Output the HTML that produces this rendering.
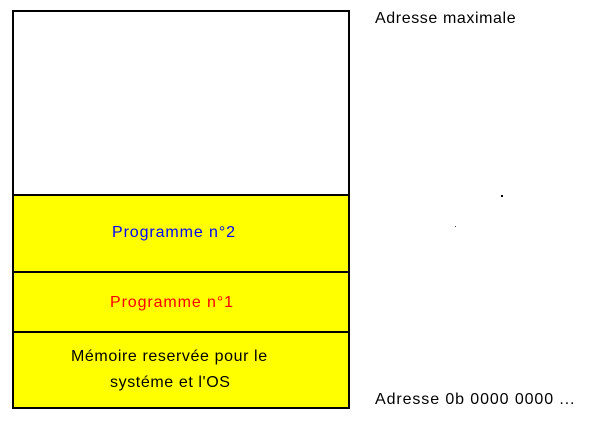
<!DOCTYPE html>
<html><head><meta charset="utf-8"><style>
body{margin:0;width:595px;height:431px;background:#fff;position:relative;font-family:"Liberation Sans","DejaVu Sans",sans-serif;overflow:hidden}
.b{position:absolute;left:12px;width:334px;border:2px solid #000;border-top:none}
.t{position:absolute;font-size:16px;white-space:nowrap;letter-spacing:0.9px}
</style></head><body>
<div style="position:absolute;left:12px;top:10px;width:334px;height:182px;border:2px solid #000"></div>
<div class="b" style="top:196px;height:75px;background:#ffff00"></div>
<div class="b" style="top:273px;height:58px;background:#ffff00"></div>
<div class="b" style="top:333px;height:74px;background:#ffff00"></div>
<div class="t" style="left:112px;top:224px;color:#0000ff">Programme n°2</div>
<div class="t" style="left:110px;top:294px;color:#ff0000">Programme n°1</div>
<div class="t" style="left:71px;top:348px;color:#000;letter-spacing:0.6px">Mémoire reservée pour le</div>
<div class="t" style="left:110px;top:374px;color:#000;letter-spacing:0.6px">systéme et l'OS</div>
<div class="t" style="left:375px;top:10px;color:#000;letter-spacing:0.6px">Adresse maximale</div>
<div class="t" style="left:375px;top:391px;color:#000;letter-spacing:0.9px">Adresse 0b 0000 0000 ...</div>
<div style="position:absolute;left:501px;top:195px;width:2px;height:2px;background:#000"></div>
<div style="position:absolute;left:455px;top:226px;width:1px;height:1px;background:#444"></div>
</body></html>
